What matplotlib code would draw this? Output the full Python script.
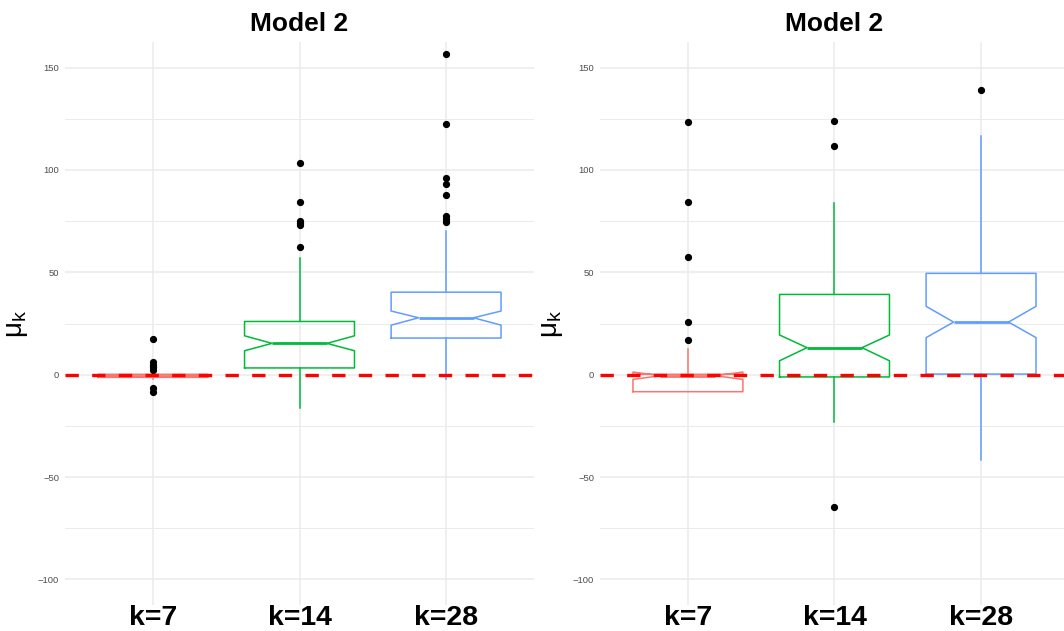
import numpy as np
import matplotlib.pyplot as plt
from matplotlib.ticker import MultipleLocator

plt.rcParams["font.family"] = ["Liberation Sans", "DejaVu Sans"]

labels = ["k=7", "k=14", "k=28"]
colors = ["#F8766D", "#00BA38", "#619CFF"]

# box summaries, panel 1
p1_q1 = [-1.3, 3.3, 17.9]
p1_med = [-0.5, 15.3, 27.8]
p1_q3 = [0.2, 26.0, 40.3]
p1_lo = [-2.2, -16.1, -2.3]
p1_hi = [1.2, 56.8, 70.1]
p1_ci_lo = [-0.7, 11.7, 24.2]
p1_ci_hi = [-0.3, 19.0, 31.1]
p1_out = [
    [17.3, 6.2, 4.7, 3.6, 2.3, -6.5, -8.6],
    [103.2, 84.3, 75.3, 74.2, 73.1, 62.5],
    [156.8, 122.3, 96.2, 93.2, 87.7, 77.3, 76.0, 74.7],
]

# box summaries, panel 2
p2_q1 = [-8.3, -1.1, 0.3]
p2_med = [-0.5, 13.2, 25.7]
p2_q3 = [0.2, 39.2, 49.5]
p2_lo = [-8.6, -22.9, -41.5]
p2_hi = [12.4, 84.1, 116.7]
p2_ci_lo = [-2.3, 6.8, 18.1]
p2_ci_hi = [1.3, 19.4, 33.4]
p2_out = [
    [123.5, 84.3, 57.6, 25.6, 17.1],
    [123.8, 111.6, -64.5],
    [139.3],
]


def draw_panel(ax, q1, med, q3, lo, hi, ci_lo, ci_hi, out):
    stats = []
    for i in range(len(labels)):
        stats.append(dict(
            med=med[i], q1=q1[i], q3=q3[i],
            whislo=lo[i], whishi=hi[i],
            cilo=ci_lo[i], cihi=ci_hi[i],
            fliers=np.array(out[i]),
        ))
    pos = np.arange(1, len(labels) + 1)
    res = ax.bxp(
        stats, positions=pos, widths=0.75, shownotches=True, showcaps=False,
        boxprops=dict(lw=1.1), whiskerprops=dict(lw=1.1),
        medianprops=dict(lw=2.0),
        flierprops=dict(marker="o", markerfacecolor="black",
                        markeredgecolor="black", markersize=4.2, linestyle="none"),
    )
    for i, c in enumerate(colors):
        res["boxes"][i].set_color(c)
        res["medians"][i].set_color(c)
        res["whiskers"][2 * i].set_color(c)
        res["whiskers"][2 * i + 1].set_color(c)

    ax.axhline(0, color="red", lw=2.4, linestyle=(0, (4, 4)), zorder=5)

    ax.set_xlim(0.4, 3.6)
    ax.set_ylim(-112.5, 162.5)
    ax.set_xticks(pos)
    ax.set_xticklabels(labels, fontsize=20.5, fontweight="bold", color="black")
    ax.yaxis.set_major_locator(MultipleLocator(50))
    ax.yaxis.set_minor_locator(MultipleLocator(25))
    ax.tick_params(axis="both", which="both", length=0)
    ax.tick_params(axis="y", labelsize=6.8, labelcolor="#4D4D4D", pad=4.3)
    ax.tick_params(axis="x", pad=0.3)
    ax.grid(axis="y", which="major", color="#EBEBEB", lw=1.1)
    ax.grid(axis="y", which="minor", color="#EBEBEB", lw=0.7)
    ax.grid(axis="x", which="major", color="#EBEBEB", lw=1.1)
    ax.set_axisbelow(True)
    for s in ax.spines.values():
        s.set_visible(False)

    ax.set_title("Model 2", fontsize=19, fontweight="bold", pad=8)
    ax.set_ylabel(r"$\mathregular{\mu_k}$", fontsize=20)
    ax.yaxis.set_label_coords(-0.0746, 0.5)


fig = plt.figure(figsize=(10.64, 6.31), dpi=100)
ax1 = fig.add_axes([0.0611, 0.0412, 0.4408, 0.8922])
ax2 = fig.add_axes([0.5639, 0.0412, 0.4408, 0.8922])

draw_panel(ax1, p1_q1, p1_med, p1_q3, p1_lo, p1_hi, p1_ci_lo, p1_ci_hi, p1_out)
draw_panel(ax2, p2_q1, p2_med, p2_q3, p2_lo, p2_hi, p2_ci_lo, p2_ci_hi, p2_out)

fig.savefig("out.png", dpi=100)
